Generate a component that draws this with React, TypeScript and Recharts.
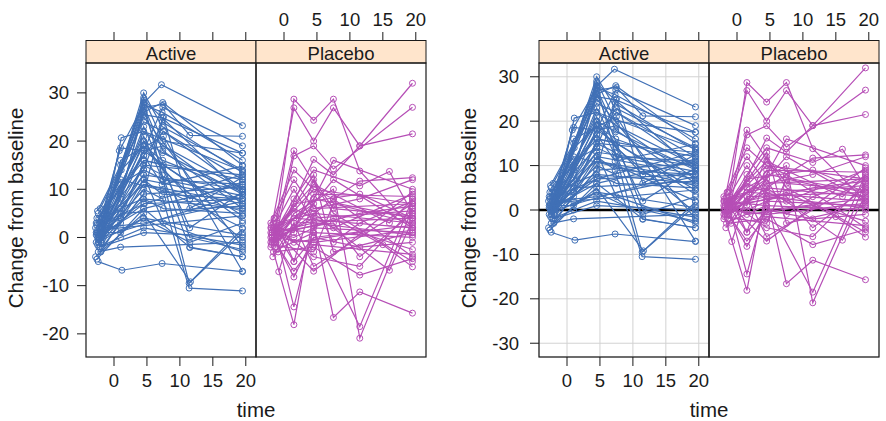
import React from 'react';
import { ScatterChart, Scatter, XAxis, YAxis, CartesianGrid, ReferenceLine } from 'recharts';

type Pt = [number, number];

// Each subject: list of [time, change from baseline]
const activeSubjects: Pt[][] = [
  [[-2, 1], [4.5, 30], [7.3, 23], [19.5, 14]],
  [[-1.8, 2], [4.6, 28], [7.2, 31.7], [19.5, 23.2]],
  [[-2.2, 0], [1, 8], [4.5, 27], [7.5, 27.6], [11.5, 21.2], [19.5, 21]],
  [[-2.5, 3], [4.4, 25.5], [7.4, 24.8], [19.5, 17.5]],
  [[-2, -1], [1.1, 20.7], [4.5, 22], [19.5, 13.8]],
  [[-2.6, 1], [1, 18.6], [4.6, 18], [7.5, 19], [19.5, 10]],
  [[-1.8, 4], [4.5, 20], [7.4, 17.6], [19.5, 9]],
  [[-2.3, -0.5], [4.5, 15], [7.3, 13], [11.5, -2.1], [19.5, -4]],
  [[-2, 0.5], [4.6, 12], [19.5, 8]],
  [[-2.4, 5], [1, 11], [4.5, 14], [7.5, 12], [19.5, 8.7]],
  [[-2.7, -1], [4.5, 10], [7.4, 8], [11.4, -10.5], [19.5, -11.1]],
  [[-1.9, 2], [0.9, 6], [4.4, 8], [19.5, 6]],
  [[-2.4, -5], [1.2, -6.8], [7.3, -5.4], [19.5, -7.1]],
  [[-2.8, -4], [4.5, 5], [11.6, -9.2], [19.5, 1.8]],
  [[-1.7, 1], [4.5, 6], [19.5, 11]],
  [[-2.2, 3], [1, 4], [4.6, 16], [7.5, 15], [19.5, 4.5]],
  [[-2, 0], [19.5, 9]],
  [[-1.8, 2], [4.5, 3], [19.5, 7.5]],
  [[-2.5, 1.5], [1, 2], [19.5, 4.5]],
  [[-1.6, 0], [4.5, 20], [7.4, 14], [19.5, -0.6]],
  [[-2.3, -2], [1, 0], [4.5, 2], [19.5, -1.6]],
  [[-2.1, 6], [4.5, 24], [7.5, 22], [19.5, 12]],
  [[-2.7, 0.5], [4.5, 13], [19.5, 10]],
  [[-1.9, 3], [1.1, 14], [4.5, 19], [7.4, 16], [19.5, 9.5]],
  [[-2.4, -1], [4.4, 4], [11.5, -1], [19.5, 3]],
  [[-2.1, 1], [1, 9], [4.5, 26], [7.4, 28], [19.5, 15]],
  [[-2.6, 2.5], [4.6, 7], [19.5, 8]],
  [[-1.8, -0.5], [1, 5], [19.5, 6.5]],
  [[-2.8, 2], [4.5, 11], [7.5, 10], [19.5, 2]],
  [[-2.3, 4], [4.5, 17], [7.3, 11], [19.5, 14.8]],
  [[-2.1, -2], [4.5, 1], [19.5, 0]],
  [[-1.7, 1], [4.5, 22], [19.5, 7]],
  [[-2.5, 0], [1, 3], [4.5, 9], [19.5, 10.5]],
  [[-1.9, 4], [4.5, 14], [7.5, 25], [11.5, 6], [19.5, 12.5]],
  [[-2.7, 3], [1, 12], [19.5, 5.5]],
  [[-2.2, 0.5], [4.5, 29], [7.4, 20], [19.5, 17.5]],
  [[-2.4, -3], [1, -2], [19.5, -1]],
  [[-1.8, 1], [4.5, 18], [19.5, 3.5]],
  [[-2.6, -4.5], [4.5, 6], [11.5, -2], [19.5, -4]],
  [[-2, 2], [4.5, 21], [7.4, 12], [19.5, 11]],
  [[-2.3, 1], [1, 4], [4.5, 12], [7.3, 9], [19.5, 8]],
  [[-1.7, 3], [4.6, 26], [11.5, 0], [19.5, -2.5]],
  [[-2.5, -1.5], [4.5, 8], [7.5, 6], [19.5, 5]],
  [[-2, 0], [1, 5], [4.5, 15], [19.5, 13]],
  [[-2.2, 2], [4.5, 28], [11.4, -9.5], [19.5, 1]],
  [[-1.9, -1], [1, 16], [7.5, 21], [19.5, -7]],
  [[-2.5, 1], [4.5, 25], [19.5, -2]],
  [[-2.1, 3], [4.6, 27], [7.4, 18], [19.5, 6]],
  [[-2.4, 0], [1, 10], [4.5, 23], [11.5, 2], [19.5, 9.5]],
  [[-1.8, -2], [4.5, 9], [7.3, 24], [19.5, 13.5]],
  [[-2.6, 4], [4.5, 16], [19.5, 12]],
  [[-2, 1], [1, 7], [7.4, 27], [19.5, 19]],
  [[-2.3, -1], [4.5, 13], [7.5, 3], [19.5, -3]],
  [[-1.7, 2], [4.4, 19], [11.5, 8], [19.5, 11.5]],
  [[-2.5, 5.5], [1, 15], [4.5, 28.5], [19.5, 9]],
  [[-2.2, 0], [4.5, 7], [19.5, 13]],
  [[-2, -3], [4.5, 11], [19.5, 7]],
  [[-2.7, 1], [1, 1], [4.5, 4], [19.5, 0.5]],
  [[-1.9, 2.5], [4.5, 17], [7.5, 22], [19.5, 10]],
  [[-2.4, 0.5], [0.8, 18], [4.5, 27.5], [7.3, 26], [19.5, 16]],
];

const placeboSubjects: Pt[][] = [
  [[-1.5, 0], [1.5, 28.7], [4.5, 24.3], [7.5, 28.7], [11.5, 13.8], [19.5, 2]],
  [[-1.9, 2], [1.5, 26.9], [4.5, 20], [7.5, 26.9], [11.5, 19], [19.5, 32]],
  [[-1.1, 1], [1.5, 16.9], [4.5, 19], [7.5, 14.2], [19.5, 27]],
  [[-2, -1], [1.5, -18.1], [4.5, 5], [19.5, 3]],
  [[-1.6, 3], [1.5, -14.4], [4.5, 2], [19.5, 1]],
  [[-1, 0], [4.5, 16.2], [7.5, 13], [11.5, 19], [19.5, 21.5]],
  [[-1.8, 1], [4.5, 3], [7.5, -16.6], [11.5, -11.3], [19.5, -15.7]],
  [[-1.4, -2], [1.5, 5], [7.5, 10], [11.5, -20.9], [19.5, 6]],
  [[-2, 2], [4.5, 1], [11.5, -18.5], [19.5, 8]],
  [[-1.2, -1], [1.5, -8.2], [4.5, 0], [19.5, 2.5]],
  [[-0.8, -7.1], [1.5, 3], [19.5, 4]],
  [[-1.5, 4], [1.5, 12], [4.5, 6], [19.5, 7]],
  [[-1.9, 0.5], [4.5, 10], [7.5, 8], [11.5, 11.7], [19.5, 12.4]],
  [[-1, 2], [1.5, 8], [4.5, 14], [11.5, 10.7], [16, 13.7], [19.5, 5]],
  [[-1.6, -3], [4.5, -2], [11.5, -7.8], [19.5, -4.4]],
  [[-1.8, 1], [1.5, 0], [7.5, 4], [15, -1.5], [19.5, -6.1]],
  [[-1.1, 3], [4.5, 5], [16, -6.8], [19.5, 3.5]],
  [[-1.5, -1], [1.5, 2], [4.5, 9], [19.5, 8.5]],
  [[-2, 0], [4.5, -1], [19.5, 1.5]],
  [[-1.3, 1.5], [1.5, 6], [7.5, 2], [19.5, 9]],
  [[-1.7, -0.5], [4.5, 4], [19.5, 5.5]],
  [[-1.9, 2.5], [1.5, 1], [4.5, 12], [7.5, 6], [19.5, 4.5]],
  [[-0.8, 0], [1.5, -5], [4.5, 0], [11.5, -2], [19.5, -1]],
  [[-1.5, 1], [4.5, 7], [7.5, -1], [11.5, 3], [19.5, 7.5]],
  [[-2, -2], [1.5, 4], [19.5, 2]],
  [[-1.2, 0.5], [4.5, 2.5], [11.5, 5], [19.5, 6.5]],
  [[-1.6, 2], [1.5, 10], [4.5, 3], [19.5, 0.5]],
  [[-1.9, -1.5], [4.5, -3], [7.5, 7], [19.5, 3]],
  [[-1.1, 1], [1.5, -1], [11.5, 1], [19.5, -2.5]],
  [[-1.5, 0], [4.5, 8], [7.5, 16], [19.5, 10]],
  [[-2, 3], [1.5, 14], [4.5, 10], [19.5, 7]],
  [[-1, -2.5], [4.5, 1], [19.5, 0]],
  [[-1.5, 1], [7.5, 3], [11.5, -4], [19.5, 5]],
  [[-1.8, 0], [1.5, -7], [4.5, -1.5], [19.5, -3.5]],
  [[-1.3, 2], [4.5, 6], [11.5, 8], [19.5, 12]],
  [[-1.4, 4], [1.5, -5], [4.5, 8], [19.5, 4]],
  [[-1.7, -4], [1.5, 3], [4.5, -6], [19.5, 7]],
  [[-1, 1], [4.5, 13], [7.5, -3], [19.5, 1]],
  [[-1.8, -1], [1.5, 18], [7.5, 5], [19.5, -5]],
  [[-1.2, 2], [4.5, -4], [11.5, -6], [19.5, 6]],
  [[-1.5, 0.5], [1.5, 7], [11.5, 9], [19.5, 4]],
  [[-2, 1], [4.5, 11], [16, 3], [19.5, 8]],
  [[-0.9, -3], [1.5, 2], [7.5, 12], [19.5, 2]],
  [[-1.6, 2], [4.5, -7], [19.5, 9.5]],
  [[-1.3, -1], [7.5, 8], [19.5, -4]],
];

const timeTicks = [0, 5, 10, 15, 20];
const leftYTicks = [-20, -10, 0, 10, 20, 30];
const rightYTicks = [-30, -20, -10, 0, 10, 20, 30];
const groupNames = ['Active', 'Placebo'];
const xTitle = 'time';
const yTitle = 'Change from baseline';

const FONT = '"Liberation Sans", Arial, Helvetica, sans-serif';
const BLUE = '#4070B6';
const MAGENTA = '#B64EB6';
const INK = '#1a1a1a';
const X_DOMAIN: [number, number] = [-4.25, 21.55];
const PLOT_TOP = 63;
const PLOT_BOTTOM = 357;
const PANEL_W = 170;
const H = 421;
const SIDE = 60;

type PanelProps = {
  left: number;
  subjects: Pt[][];
  color: string;
  yDomain: [number, number];
  yTicks: number[];
  showLeftY: boolean;
  showRightY: boolean;
  bottomLabels: boolean;
  topLabels: boolean;
  grid: boolean;
  zeroLine: boolean;
  yTickMargin: number;
};

function Panel(p: PanelProps) {
  const series = p.subjects.map((s) => s.map(([t, v]) => ({ t, v })));
  const tickText = { fill: INK, fontSize: 18.5, fontFamily: FONT };
  const TopTick = (props: any) => {
    const { x, payload } = props;
    return (
      <g>
        <line x1={x} x2={x} y1={40.5} y2={32} stroke={INK} strokeWidth={1} />
        {p.topLabels && (
          <text x={x} y={25.5} textAnchor="middle" fontSize={18.5} fontFamily={FONT} fill={INK}>
            {payload.value}
          </text>
        )}
      </g>
    );
  };
  const Dot = (props: any) => (
    <circle cx={props.cx} cy={props.cy} r={3} fill="none" stroke={p.color} strokeWidth={1} />
  );
  return (
    <div style={{ position: 'absolute', left: p.left - SIDE, top: 0 }}>
      <ScatterChart width={PANEL_W + 2 * SIDE} height={H} margin={{ top: 0, right: 0, bottom: 0, left: 0 }}>
        {p.grid && (
          <CartesianGrid xAxisId="b" yAxisId="l" stroke="#d2d2d2" strokeWidth={1} />
        )}
        <XAxis
          xAxisId="b"
          orientation="bottom"
          type="number"
          dataKey="t"
          domain={X_DOMAIN}
          allowDataOverflow
          ticks={timeTicks}
          interval={0}
          height={H - PLOT_BOTTOM}
          axisLine={false}
          stroke={INK}
          tickSize={9}
          tickMargin={8}
          tick={p.bottomLabels ? tickText : false}
        />
        <XAxis
          xAxisId="t"
          orientation="top"
          type="number"
          dataKey="t"
          domain={X_DOMAIN}
          allowDataOverflow
          ticks={timeTicks}
          interval={0}
          height={PLOT_TOP}
          axisLine={false}
          tickLine={false}
          tick={TopTick}
        />
        <YAxis
          yAxisId="l"
          orientation="left"
          type="number"
          dataKey="v"
          domain={p.yDomain}
          allowDataOverflow
          ticks={p.yTicks}
          interval={0}
          width={SIDE}
          axisLine={false}
          stroke={INK}
          tickSize={9}
          tickMargin={p.yTickMargin}
          tickLine={p.showLeftY}
          tick={p.showLeftY ? tickText : false}
        />
        <YAxis
          yAxisId="r"
          orientation="right"
          type="number"
          dataKey="v"
          domain={p.yDomain}
          allowDataOverflow
          ticks={p.yTicks}
          interval={0}
          width={SIDE}
          axisLine={false}
          stroke={INK}
          tickSize={8}
          tickLine={p.showRightY}
          tick={false}
        />
        {series.map((d, i) => (
          <Scatter
            key={i}
            data={d}
            xAxisId="b"
            yAxisId="l"
            dataKey="v"
            fill={p.color}
            line={{ stroke: p.color, strokeWidth: 1.2 }}
            lineType="joint"
            shape={Dot}
            isAnimationActive={false}
          />
        ))}
        {p.zeroLine && (
          <ReferenceLine xAxisId="b" yAxisId="l" y={0} stroke="#000" strokeWidth={2.5} />
        )}
      </ScatterChart>
    </div>
  );
}

const plots = [
  { offset: 0, yDomain: [-24.8, 36.2] as [number, number], yTicks: leftYTicks, grid: false, zero: false, titleX: 23, yTickMargin: 8 },
  { offset: 453, yDomain: [-33.1, 33.1] as [number, number], yTicks: rightYTicks, grid: true, zero: true, titleX: 476, yTickMargin: 11 },
];

export default function App() {
  return (
    <div style={{ position: 'absolute', left: 0, top: 0, width: 886, height: 421, background: '#fff', overflow: 'hidden' }}>
      {plots.map((pl, k) => {
        const aLeft = 86 + pl.offset;
        const pLeft = aLeft + PANEL_W;
        return (
          <React.Fragment key={k}>
            <Panel
              left={aLeft}
              subjects={activeSubjects}
              color={BLUE}
              yDomain={pl.yDomain}
              yTicks={pl.yTicks}
              showLeftY={true}
              showRightY={false}
              bottomLabels={true}
              topLabels={false}
              grid={pl.grid}
              zeroLine={pl.zero}
              yTickMargin={pl.yTickMargin}
            />
            <Panel
              left={pLeft}
              subjects={placeboSubjects}
              color={MAGENTA}
              yDomain={pl.yDomain}
              yTicks={pl.yTicks}
              showLeftY={false}
              showRightY={true}
              bottomLabels={false}
              topLabels={true}
              grid={pl.grid}
              zeroLine={pl.zero}
              yTickMargin={pl.yTickMargin}
            />
          </React.Fragment>
        );
      })}
      <svg width={886} height={421} style={{ position: 'absolute', left: 0, top: 0, pointerEvents: 'none' }}>
        {plots.map((pl, k) => {
          const aLeft = 86 + pl.offset;
          return (
            <g key={k}>
              {groupNames.map((g, j) => {
                const x0 = aLeft + j * PANEL_W;
                return (
                  <g key={g}>
                    <rect x={x0} y={40.5} width={PANEL_W} height={PLOT_TOP - 40.5} fill="#FFE5CC" stroke={INK} strokeWidth={1} />
                    <text x={x0 + PANEL_W / 2} y={59.5} textAnchor="middle" fontSize={18.5} fontFamily={FONT} fill={INK}>
                      {g}
                    </text>
                    <rect x={x0} y={PLOT_TOP} width={PANEL_W} height={PLOT_BOTTOM - PLOT_TOP} fill="none" stroke={INK} strokeWidth={1.2} />
                  </g>
                );
              })}
              <text x={aLeft + PANEL_W} y={417} textAnchor="middle" fontSize={20.5} fontFamily={FONT} fill={INK}>
                {xTitle}
              </text>
              <text
                x={pl.titleX}
                y={208}
                textAnchor="middle"
                fontSize={20.5}
                fontFamily={FONT}
                fill={INK}
                transform={`rotate(-90 ${pl.titleX} 208)`}
              >
                {yTitle}
              </text>
            </g>
          );
        })}
      </svg>
    </div>
  );
}
